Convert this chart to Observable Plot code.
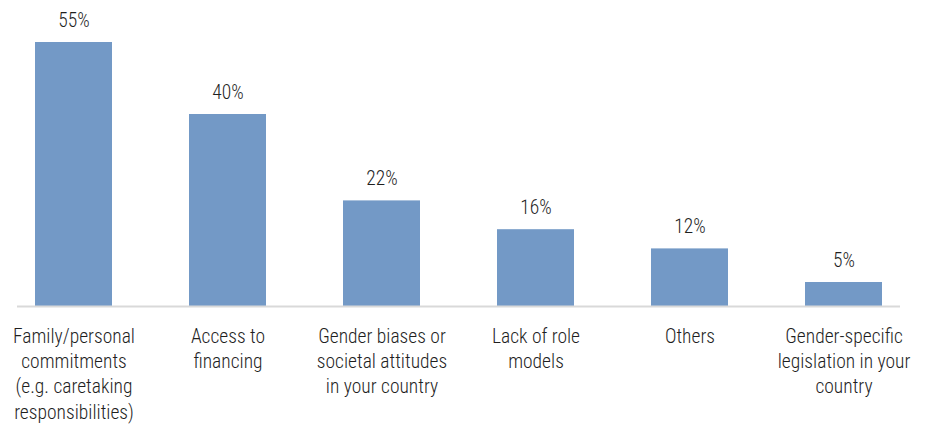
<!DOCTYPE html>
<html>
<head>
<meta charset="utf-8">
<script src="https://cdn.jsdelivr.net/npm/d3@7"></script>
<script src="https://cdn.jsdelivr.net/npm/@observablehq/plot@0.6"></script>
<style>
  html, body { margin: 0; padding: 0; background: #fff; }
  svg { display: block; font-family: "Liberation Sans Narrow", "Roboto Condensed", "DejaVu Sans Condensed", sans-serif; font-weight: 300; }
</style>
</head>
<body>
<div id="chart"></div>
<script>
const categories = [
  "Family/personal\ncommitments\n(e.g. caretaking\nresponsibilities)",
  "Access to\nfinancing",
  "Gender biases or\nsocietal attitudes\nin your country",
  "Lack of role\nmodels",
  "Others",
  "Gender-specific\nlegislation in your\ncountry"
];
const values = [55, 40, 22, 16, 12, 5];
const valueLabels = ["55%", "40%", "22%", "16%", "12%", "5%"];

const data = categories.map((c, i) => ({category: c, value: values[i], label: valueLabels[i]}));

const chart = Plot.plot({
  width: 931,
  height: 424,
  marginTop: 42,
  marginBottom: 118,
  marginLeft: 17,
  marginRight: 31,
  style: {fontSize: "19.5px", color: "#1f1f1f", background: "#fff", fontWeight: 300},
  x: {domain: categories, range: [-42.7, 960.3], padding: 0.5, label: null},
  y: {domain: [0, 55], axis: null},
  marks: [
    Plot.barY(data, {x: "category", y: "value", fill: "#7399c6"}),
    Plot.ruleY([0], {stroke: "#d9d9d9", strokeWidth: 2}),
    Plot.text(data, {x: "category", y: "value", text: "label", lineAnchor: "bottom", dy: -16, fontSize: 19.5, fontWeight: 300, fill: "#1f1f1f"}),
    Plot.axisX({tickSize: 0, tickPadding: 18, fontSize: 19.5, fontWeight: 300, lineHeight: 1.3, label: null, fill: "#1f1f1f"})
  ]
});
document.getElementById("chart").appendChild(chart);
</script>
</body>
</html>
